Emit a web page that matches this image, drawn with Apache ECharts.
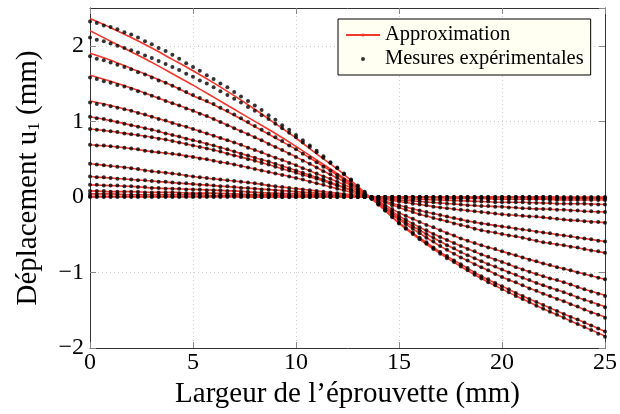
<!DOCTYPE html>
<html><head><meta charset="utf-8">
<script src="https://cdn.jsdelivr.net/npm/echarts@6/dist/echarts.min.js"></script>
<style>html,body{margin:0;padding:0;background:#fff}#c{width:620px;height:414px}</style>
</head><body><div id="c"></div>
<script>
// x positions (mm)
const APPROX_X = [0,1,2,3,4,5,6,7,8,9,10,11,12,13,14,15,16,17,18,19,20,21,22,23,24,25];
const MEAS_X = [0,0.33,0.67,1,1.33,1.67,2,2.33,2.67,3,3.33,3.67,4,4.33,4.67,5,5.33,5.67,6,6.33,6.67,7,7.33,7.67,8,8.33,8.67,9,9.33,9.67,10,10.33,10.67,11,11.33,11.67,12,12.33,12.67,13,13.33,13.67,14,14.33,14.67,15,15.33,15.67,16,16.33,16.67,17,17.33,17.67,18,18.33,18.67,19,19.33,19.67,20,20.33,20.67,21,21.33,21.67,22,22.33,22.67,23,23.33,23.67,24,24.33,24.67,25];

// Approximation curves (values at APPROX_X)
const A1 = [2.36,2.24,2.11,1.97,1.82,1.67,1.51,1.34,1.16,0.97,0.78,0.57,0.37,0.14,-0.10,-0.35,-0.56,-0.75,-0.92,-1.08,-1.22,-1.35,-1.48,-1.60,-1.72,-1.84];
const A2 = [2.20,2.06,1.92,1.78,1.63,1.48,1.32,1.16,1.00,0.84,0.67,0.49,0.31,0.12,-0.10,-0.34,-0.54,-0.73,-0.89,-1.05,-1.18,-1.31,-1.43,-1.55,-1.66,-1.78];
const A3 = [1.90,1.81,1.70,1.59,1.47,1.34,1.22,1.08,0.93,0.78,0.63,0.46,0.29,0.11,-0.09,-0.30,-0.48,-0.65,-0.80,-0.93,-1.06,-1.17,-1.28,-1.38,-1.49,-1.59];
const A4 = [1.61,1.53,1.44,1.34,1.24,1.14,1.03,0.91,0.79,0.66,0.53,0.39,0.25,0.10,-0.08,-0.28,-0.44,-0.59,-0.73,-0.85,-0.96,-1.07,-1.17,-1.26,-1.36,-1.45];
const A5 = [1.27,1.21,1.14,1.06,0.98,0.90,0.81,0.72,0.62,0.52,0.42,0.31,0.20,0.08,-0.07,-0.25,-0.40,-0.53,-0.65,-0.76,-0.86,-0.96,-1.05,-1.13,-1.22,-1.30];
const A6 = [1.06,1.01,0.95,0.89,0.82,0.75,0.68,0.60,0.52,0.44,0.35,0.26,0.16,0.06,-0.06,-0.21,-0.33,-0.44,-0.55,-0.64,-0.72,-0.80,-0.88,-0.95,-1.02,-1.09];
const A7 = [0.90,0.87,0.83,0.79,0.74,0.68,0.62,0.55,0.48,0.40,0.32,0.24,0.15,0.06,-0.04,-0.14,-0.23,-0.30,-0.37,-0.44,-0.49,-0.54,-0.60,-0.64,-0.69,-0.74];
const A8 = [0.69,0.67,0.64,0.60,0.57,0.53,0.48,0.43,0.37,0.31,0.25,0.18,0.11,0.04,-0.03,-0.11,-0.18,-0.24,-0.30,-0.35,-0.39,-0.43,-0.47,-0.51,-0.55,-0.59];
const A9 = [0.44,0.41,0.38,0.34,0.31,0.27,0.24,0.21,0.18,0.14,0.11,0.08,0.05,0.02,-0.02,-0.06,-0.10,-0.14,-0.17,-0.20,-0.23,-0.25,-0.27,-0.30,-0.32,-0.34];
const A10 = [0.27,0.25,0.23,0.21,0.19,0.17,0.15,0.13,0.11,0.09,0.07,0.05,0.03,0.01,-0.01,-0.04,-0.06,-0.08,-0.10,-0.12,-0.13,-0.15,-0.16,-0.17,-0.19,-0.20];
const A11 = [0.16,0.15,0.14,0.12,0.11,0.10,0.09,0.08,0.06,0.05,0.04,0.03,0.02,0.01,0,-0.02,-0.03,-0.04,-0.05,-0.06,-0.07,-0.07,-0.08,-0.09,-0.09,-0.10];
const A12 = [0.08,0.07,0.07,0.06,0.06,0.05,0.05,0.04,0.03,0.03,0.02,0.02,0.01,0.01,0,0,-0.01,-0.01,-0.02,-0.02,-0.03,-0.03,-0.03,-0.04,-0.04,-0.04];
const A13 = [0.04,0.04,0.03,0.03,0.03,0.03,0.02,0.02,0.02,0.02,0.01,0.01,0.01,0,0,0,0,-0.01,-0.01,-0.01,-0.01,-0.01,-0.02,-0.02,-0.02,-0.02];
const A14 = [0.01,0.01,0.01,0.01,0.01,0.01,0.01,0.01,0,0,0,0,0,0,0,0,0,0,0,0,0,0,0,-0.01,-0.01,-0.01];
const A15 = [0,0,0,0,0,0,0,0,0,0,0,0,0,0,0,0,0,0,0,0,0,0,0,0,0,0];

// Experimental measurements (values at MEAS_X)
const M1 = [2.32,2.30,2.27,2.25,2.22,2.18,2.15,2.11,2.06,2.02,1.97,1.93,1.88,1.83,1.77,1.72,1.67,1.61,1.56,1.50,1.45,1.39,1.33,1.27,1.21,1.15,1.08,1.02,0.95,0.89,0.82,0.75,0.68,0.61,0.54,0.46,0.39,0.31,0.23,0.15,0.07,-0.02,-0.10,-0.18,-0.27,-0.35,-0.42,-0.49,-0.56,-0.62,-0.69,-0.75,-0.81,-0.86,-0.92,-0.97,-1.03,-1.08,-1.13,-1.17,-1.22,-1.26,-1.31,-1.35,-1.39,-1.44,-1.48,-1.52,-1.56,-1.60,-1.64,-1.68,-1.72,-1.76,-1.81,-1.85];
const M2 = [2.11,2.08,2.06,2.03,2.00,1.97,1.94,1.91,1.87,1.84,1.80,1.76,1.72,1.68,1.63,1.59,1.54,1.50,1.45,1.40,1.35,1.30,1.25,1.19,1.14,1.08,1.03,0.97,0.91,0.85,0.79,0.72,0.66,0.59,0.52,0.45,0.38,0.30,0.22,0.14,0.06,-0.02,-0.10,-0.18,-0.26,-0.34,-0.41,-0.47,-0.54,-0.60,-0.67,-0.73,-0.78,-0.84,-0.89,-0.94,-1.00,-1.05,-1.09,-1.14,-1.18,-1.22,-1.27,-1.31,-1.35,-1.39,-1.43,-1.47,-1.51,-1.55,-1.59,-1.62,-1.66,-1.70,-1.74,-1.78];
const M3 = [1.86,1.83,1.81,1.78,1.75,1.72,1.69,1.65,1.62,1.58,1.54,1.51,1.47,1.43,1.39,1.35,1.31,1.27,1.23,1.18,1.14,1.09,1.04,0.99,0.94,0.89,0.84,0.79,0.74,0.68,0.63,0.57,0.52,0.46,0.40,0.35,0.29,0.23,0.17,0.11,0.04,-0.02,-0.09,-0.16,-0.23,-0.30,-0.36,-0.42,-0.48,-0.54,-0.59,-0.65,-0.70,-0.75,-0.80,-0.84,-0.89,-0.93,-0.97,-1.02,-1.06,-1.10,-1.13,-1.17,-1.21,-1.24,-1.28,-1.31,-1.35,-1.38,-1.42,-1.45,-1.49,-1.53,-1.56,-1.60];
const M4 = [1.58,1.56,1.53,1.51,1.48,1.46,1.43,1.40,1.37,1.34,1.31,1.27,1.24,1.21,1.17,1.14,1.10,1.07,1.03,0.99,0.95,0.91,0.87,0.83,0.79,0.75,0.70,0.66,0.62,0.57,0.53,0.48,0.44,0.39,0.34,0.30,0.25,0.20,0.15,0.10,0.04,-0.02,-0.08,-0.15,-0.21,-0.28,-0.33,-0.39,-0.44,-0.49,-0.54,-0.59,-0.64,-0.68,-0.73,-0.77,-0.81,-0.85,-0.89,-0.92,-0.96,-1.00,-1.03,-1.07,-1.10,-1.14,-1.17,-1.20,-1.23,-1.26,-1.29,-1.33,-1.36,-1.39,-1.43,-1.46];
const M5 = [1.25,1.23,1.22,1.20,1.18,1.16,1.14,1.11,1.09,1.06,1.03,1.01,0.98,0.95,0.93,0.90,0.87,0.84,0.81,0.78,0.75,0.72,0.69,0.65,0.62,0.59,0.55,0.52,0.49,0.45,0.42,0.38,0.35,0.31,0.27,0.24,0.20,0.16,0.12,0.08,0.03,-0.02,-0.07,-0.13,-0.19,-0.25,-0.30,-0.35,-0.40,-0.44,-0.49,-0.53,-0.57,-0.61,-0.65,-0.69,-0.72,-0.76,-0.79,-0.83,-0.86,-0.89,-0.93,-0.96,-0.99,-1.02,-1.05,-1.08,-1.10,-1.13,-1.16,-1.19,-1.22,-1.25,-1.28,-1.31];
const M6 = [1.06,1.04,1.03,1.01,0.99,0.97,0.95,0.93,0.91,0.89,0.87,0.84,0.82,0.80,0.77,0.75,0.73,0.70,0.68,0.65,0.63,0.60,0.57,0.55,0.52,0.49,0.47,0.44,0.41,0.38,0.35,0.32,0.29,0.26,0.23,0.19,0.16,0.13,0.09,0.06,0.02,-0.02,-0.06,-0.11,-0.16,-0.21,-0.25,-0.29,-0.33,-0.37,-0.40,-0.44,-0.48,-0.51,-0.55,-0.58,-0.61,-0.64,-0.67,-0.69,-0.72,-0.75,-0.77,-0.80,-0.83,-0.85,-0.88,-0.90,-0.93,-0.95,-0.97,-1.00,-1.02,-1.04,-1.07,-1.09];
const M7 = [0.90,0.89,0.88,0.87,0.86,0.84,0.83,0.82,0.80,0.79,0.77,0.76,0.74,0.72,0.70,0.68,0.66,0.64,0.62,0.60,0.57,0.55,0.53,0.50,0.48,0.45,0.43,0.40,0.37,0.35,0.32,0.29,0.27,0.24,0.21,0.18,0.15,0.12,0.09,0.06,0.03,-0.01,-0.04,-0.07,-0.11,-0.14,-0.17,-0.20,-0.23,-0.25,-0.28,-0.30,-0.32,-0.35,-0.37,-0.39,-0.42,-0.44,-0.46,-0.47,-0.49,-0.51,-0.52,-0.54,-0.56,-0.58,-0.60,-0.61,-0.63,-0.64,-0.66,-0.67,-0.69,-0.71,-0.72,-0.74];
const M8 = [0.69,0.68,0.68,0.67,0.66,0.65,0.64,0.63,0.61,0.60,0.59,0.58,0.57,0.56,0.54,0.53,0.51,0.50,0.48,0.46,0.45,0.43,0.41,0.39,0.37,0.35,0.33,0.31,0.29,0.27,0.25,0.23,0.20,0.18,0.16,0.13,0.11,0.09,0.06,0.04,0.02,-0.01,-0.03,-0.06,-0.08,-0.11,-0.13,-0.16,-0.18,-0.20,-0.22,-0.24,-0.26,-0.28,-0.30,-0.32,-0.33,-0.35,-0.36,-0.38,-0.39,-0.40,-0.42,-0.43,-0.44,-0.46,-0.47,-0.48,-0.50,-0.51,-0.52,-0.54,-0.55,-0.56,-0.58,-0.59];
const M9 = [0.44,0.43,0.42,0.41,0.40,0.39,0.38,0.37,0.35,0.34,0.33,0.32,0.31,0.30,0.28,0.27,0.26,0.25,0.24,0.23,0.22,0.21,0.20,0.19,0.18,0.17,0.15,0.14,0.13,0.12,0.11,0.10,0.09,0.08,0.07,0.06,0.05,0.04,0.03,0.02,0.01,-0.01,-0.02,-0.03,-0.05,-0.06,-0.07,-0.09,-0.10,-0.11,-0.13,-0.14,-0.15,-0.16,-0.17,-0.18,-0.19,-0.20,-0.21,-0.22,-0.23,-0.24,-0.24,-0.25,-0.26,-0.26,-0.27,-0.28,-0.29,-0.30,-0.31,-0.31,-0.32,-0.33,-0.33,-0.34];
const M10 = [0.27,0.26,0.26,0.25,0.24,0.24,0.23,0.22,0.22,0.21,0.20,0.20,0.19,0.18,0.18,0.17,0.16,0.16,0.15,0.14,0.14,0.13,0.12,0.12,0.11,0.10,0.10,0.09,0.08,0.08,0.07,0.06,0.06,0.05,0.04,0.04,0.03,0.02,0.02,0.01,0.00,0.00,-0.01,-0.02,-0.03,-0.04,-0.05,-0.05,-0.06,-0.07,-0.07,-0.08,-0.09,-0.09,-0.10,-0.11,-0.11,-0.12,-0.12,-0.13,-0.13,-0.14,-0.14,-0.15,-0.15,-0.16,-0.16,-0.16,-0.17,-0.17,-0.18,-0.18,-0.19,-0.19,-0.20,-0.20];
const M11 = [0.16,0.16,0.15,0.15,0.15,0.14,0.14,0.13,0.13,0.12,0.12,0.11,0.11,0.11,0.10,0.10,0.10,0.09,0.09,0.09,0.08,0.08,0.07,0.07,0.06,0.06,0.05,0.05,0.05,0.04,0.04,0.04,0.03,0.03,0.03,0.02,0.02,0.02,0.01,0.01,0.01,0.00,0.00,-0.01,-0.01,-0.02,-0.02,-0.03,-0.03,-0.03,-0.04,-0.04,-0.04,-0.05,-0.05,-0.05,-0.06,-0.06,-0.06,-0.07,-0.07,-0.07,-0.07,-0.07,-0.08,-0.08,-0.08,-0.08,-0.09,-0.09,-0.09,-0.09,-0.09,-0.10,-0.10,-0.10];
const M12 = [0.08,0.08,0.08,0.07,0.07,0.07,0.07,0.07,0.06,0.06,0.06,0.06,0.06,0.05,0.05,0.05,0.05,0.05,0.05,0.04,0.04,0.04,0.04,0.03,0.03,0.03,0.03,0.03,0.03,0.02,0.02,0.02,0.02,0.02,0.01,0.01,0.01,0.01,0.01,0.01,0.00,0.00,0.00,0.00,0.00,0.00,-0.01,-0.01,-0.01,-0.01,-0.01,-0.01,-0.02,-0.02,-0.02,-0.02,-0.02,-0.02,-0.03,-0.03,-0.03,-0.03,-0.03,-0.03,-0.03,-0.03,-0.03,-0.04,-0.04,-0.04,-0.04,-0.04,-0.04,-0.04,-0.04,-0.04];
const M13 = [0.04,0.04,0.04,0.04,0.04,0.03,0.03,0.03,0.03,0.03,0.03,0.03,0.03,0.03,0.03,0.03,0.03,0.02,0.02,0.02,0.02,0.02,0.02,0.02,0.02,0.02,0.02,0.02,0.02,0.01,0.01,0.01,0.01,0.01,0.01,0.01,0.01,0.01,0.00,0.00,0.00,0.00,0.00,0.00,0.00,0.00,0.00,0.00,0.00,0.00,-0.01,-0.01,-0.01,-0.01,-0.01,-0.01,-0.01,-0.01,-0.01,-0.01,-0.01,-0.01,-0.01,-0.01,-0.01,-0.01,-0.02,-0.02,-0.02,-0.02,-0.02,-0.02,-0.02,-0.02,-0.02,-0.02];
const M14 = [0.01,0.01,0.01,0.01,0.01,0.01,0.01,0.01,0.01,0.01,0.01,0.01,0.01,0.01,0.01,0.01,0.01,0.01,0.01,0.01,0.01,0.01,0.01,0.01,0,0,0,0,0,0,0,0,0,0,0,0,0,0,0,0,0,0,0,0,0,0,0,0,0,0,0,0,0,0,0,0,0,0,0,0,0,0,0,0,0,0,0,0,0,-0.01,-0.01,-0.01,-0.01,-0.01,-0.01,-0.01];
const M15 = [0,0,0,0,0,0,0,0,0,0,0,0,0,0,0,0,0,0,0,0,0,0,0,0,0,0,0,0,0,0,0,0,0,0,0,0,0,0,0,0,0,0,0,0,0,0,0,0,0,0,0,0,0,0,0,0,0,0,0,0,0,0,0,0,0,0,0,0,0,0,0,0,0,0,0,0];

const APPROX = [A1,A2,A3,A4,A5,A6,A7,A8,A9,A10,A11,A12,A13,A14,A15];
const MEAS = [M1,M2,M3,M4,M5,M6,M7,M8,M9,M10,M11,M12,M13,M14,M15];

const RED = '#f2382c';
const FONT = '"Liberation Serif","DejaVu Serif",serif';
const minus = v => String(v).replace('-', '\u2212');

const series = [];
APPROX.forEach(a => {
  series.push({
    type: 'line', name: 'Approximation', data: APPROX_X.map((x, j) => [x, a[j]]),
    symbol: 'none', showSymbol: false, smooth: 0.25,
    lineStyle: { color: RED, width: 1.6 }, itemStyle: { color: RED }, z: 2, silent: true
  });
});
MEAS.forEach(m => {
  series.push({
    type: 'scatter', name: 'Mesures expérimentales', data: MEAS_X.map((x, j) => [x, m[j]]),
    symbol: 'circle', symbolSize: 4, itemStyle: { color: '#000' }, z: 3, silent: true
  });
});

const gridLine = { show: true, lineStyle: { color: '#cfcfcf', type: [1, 3], width: 1 } };
const chart = echarts.init(document.getElementById('c'), null, { renderer: 'canvas' });
chart.setOption({
  animation: false,
  backgroundColor: '#fff',
  grid: { left: 90, right: 12, top: 8, bottom: 62, containLabel: false },
  legend: {
    left: 338, top: 19, orient: 'vertical',
    data: ['Approximation', 'Mesures expérimentales'],
    backgroundColor: '#fffff2', borderColor: '#000', borderWidth: 1,
    padding: [4, 7, 4, 7], itemGap: 0, itemWidth: 34, itemHeight: 4,
    textStyle: { fontFamily: FONT, fontSize: 20.5, color: '#000', lineHeight: 24 }
  },
  xAxis: [{
    type: 'value', min: 0, max: 25, interval: 5,
    axisLine: { onZero: false, lineStyle: { color: '#333', width: 1 } },
    axisTick: { inside: true, length: 6, lineStyle: { color: '#888' } },
    axisLabel: { fontFamily: FONT, fontSize: 24, color: '#000', margin: 3, formatter: minus },
    splitLine: gridLine,
    name: 'Largeur de l\u2019éprouvette (mm)', nameLocation: 'middle', nameGap: 28,
    nameTextStyle: { fontFamily: FONT, fontSize: 29, color: '#000' }
  }, {
    type: 'value', min: 0, max: 25, interval: 5, position: 'top',
    axisLine: { onZero: false, lineStyle: { color: '#333', width: 1 } },
    axisTick: { inside: true, length: 6, lineStyle: { color: '#888' } },
    axisLabel: { show: false }, splitLine: { show: false }
  }],
  yAxis: [{
    type: 'value', min: -2, max: 2.5, interval: 1,
    axisLine: { onZero: false, lineStyle: { color: '#333', width: 1 } },
    axisTick: { inside: true, length: 6, lineStyle: { color: '#888' } },
    axisLabel: { fontFamily: FONT, fontSize: 24, color: '#000', margin: 6, showMaxLabel: false, formatter: minus },
    splitLine: gridLine,
    name: 'Déplacement u{s|1} (mm)', nameLocation: 'middle', nameGap: 47,
    nameTextStyle: { fontFamily: FONT, fontSize: 29, color: '#000',
      rich: { s: { fontFamily: FONT, fontSize: 17, color: '#000', padding: [12, 0, 0, 0] } } }
  }, {
    type: 'value', min: -2, max: 2.5, interval: 1, position: 'right',
    axisLine: { onZero: false, lineStyle: { color: '#333', width: 1 } },
    axisTick: { inside: true, length: 6, lineStyle: { color: '#888' } },
    axisLabel: { show: false }, splitLine: { show: false }
  }],
  series: series
});
</script></body></html>
